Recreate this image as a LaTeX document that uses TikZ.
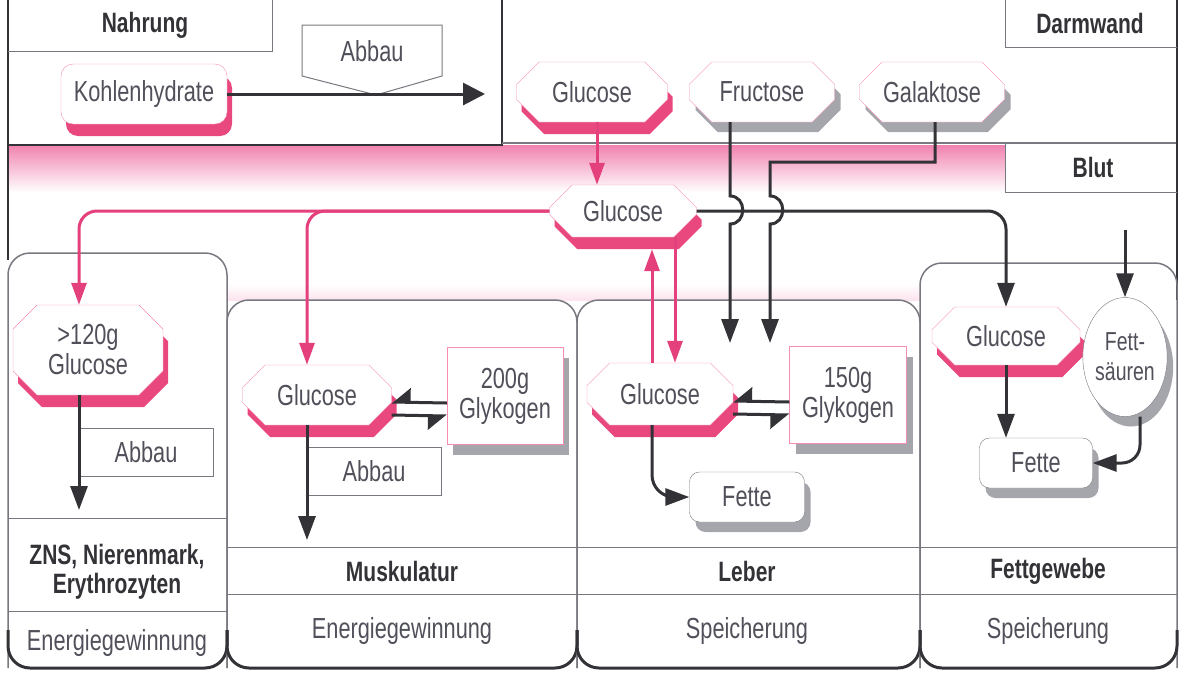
\documentclass[tikz,border=0pt]{standalone}
\usepackage{fontspec}
\setmainfont{Liberation Sans}[FakeStretch=0.75]
\usetikzlibrary{positioning, arrows.meta, shapes.misc, shapes.geometric, shadows}

\definecolor{pinkline}{RGB}{228,64,124}
\definecolor{pinkshade}{RGB}{232,72,126}
\definecolor{pinkedge}{RGB}{244,140,180}
\definecolor{pinkband}{RGB}{240,130,175}
\definecolor{greyshade}{RGB}{165,165,172}
\definecolor{frame}{RGB}{120,120,128}
\definecolor{ink}{RGB}{80,80,90}
\definecolor{darkink}{RGB}{50,50,55}

\begin{document}
\begin{tikzpicture}[x=1pt, y=-1pt,
  txt/.style={font=\fontsize{29}{30}\selectfont, text=ink, align=center},
  ttl/.style={font=\fontsize{28}{29}\selectfont\bfseries, text=darkink, align=center},
  pshadow/.style={drop shadow={shadow xshift=5pt, shadow yshift=-12pt, fill=pinkshade, opacity=1}},
  gshadow/.style={drop shadow={shadow xshift=6pt, shadow yshift=-10pt, fill=greyshade, opacity=1}},
  glu/.style={txt, chamfered rectangle, chamfered rectangle sep=12pt, draw=pinkedge, fill=white, inner sep=0pt, minimum height=60, minimum width=#1},
  store/.style={txt, rectangle, draw=pinkedge, fill=white, inner sep=0pt, minimum width=116, minimum height=97, gshadow},
  fat/.style={txt, rectangle, rounded corners=10, draw=frame, fill=white, inner sep=0pt, minimum width=115, minimum height=50, gshadow},
  abbau/.style={txt, rectangle, draw=frame, inner sep=0pt, minimum width=135, minimum height=48},
  panel/.style={draw=frame, line width=1.5},
  pink/.style={draw=pinkline, line width=3, -{Triangle[length=22pt, width=15pt]}},
  flow/.style={draw=darkink, line width=3, -{Triangle[length=24pt, width=17pt]}},
  swing/.style={draw=darkink, line width=3, -{Triangle[harpoon, swap, length=17pt, width=28pt]}},
]
\useasboundingbox (0,0) rectangle (1181,675);

% blood band
\shade[top color=pinkband, middle color=pinkband!55, bottom color=white] (8,145) rectangle (1005,192);
\shade[top color=white, bottom color=pinkband!22] (227,284) rectangle (920,300);

% frames
\draw[draw=darkink, line width=1.5] (8,0) -- (8,260);
\draw[draw=darkink, line width=2.5] (502,0) -- (502,145) -- (8,145);
\draw[panel, line width=1] (272,0) -- (272,51) -- (8,51);
\draw[panel] (502,143) -- (1177,143);
\draw[draw=darkink, line width=1.5] (1177,0) -- (1177,300);
\draw[panel, line width=1] (1005,0) -- (1005,47) -- (1177,47);
\draw[panel, line width=1] (1005,143) -- (1005,192) -- (1177,192);

% panels
\foreach \xa/\ya/\xb in {8/253/227, 227/300/577, 577/300/920, 920/263/1177} {
  \draw[panel, rounded corners=22] (\xa,668) -- (\xa,\ya) -- (\xb,\ya) -- (\xb,668);
  \draw[draw=darkink, line width=3, rounded corners=22] (\xa,630) -- (\xa,668) -- (\xb,668) -- (\xb,630);
}
\draw[panel, line width=1] (8,518) -- (227,518) (8,611) -- (227,611);
\draw[panel, line width=1] (227,547) -- (1177,547) (227,594) -- (1177,594);

% labels
\node[ttl] (nahr) at (145,25) {Nahrung};
\node[ttl] (darm) at (1090,23) {Darmwand};
\node[ttl] (blut) at (1093,167) {Blut};
\foreach \x/\y/\t [count=\i] in {117/572/{ZNS, Nierenmark,\\Erythrozyten}, 402/571/Muskulatur, 747/571/Leber, 1048/571/Fettgewebe}
  \node[ttl] (org\i) at (\x,\y) {\t};
\foreach \x/\y/\t [count=\i] in {117/643/Energiegewinnung, 402/631/Energiegewinnung, 747/631/Speicherung, 1048/631/Speicherung}
  \node[txt] (use\i) at (\x,\y) {\t};

% digestion
\node[txt, rounded corners=12, draw=pinkedge, fill=white, inner sep=0pt, minimum width=166, minimum height=60, pshadow] (kohl) at (144,94) {Kohlenhydrate};
\draw[panel, line width=1] (302,25) -- (442,25) -- (442,76) -- (376,95) -- (302,76) -- cycle;
\node[txt] (abbT) at (372,51) {Abbau};
\coordinate (kEnd) at (485,94);
\draw[flow, -{Triangle[length=22pt, width=22pt]}] (kohl.east) -- (kEnd);

\node[glu=151, pshadow] (gluT) at (592,92) {Glucose};
\node[glu=145, gshadow] (fru) at (762,92) {Fructose};
\node[glu=145, gshadow] (gal) at (932,92) {Galaktose};

% blood and organs
\node[glu=147, minimum height=52, pshadow] (gluC) at (623,211) {Glucose};
\node[glu=150, minimum height=90, pshadow] (glu120) at (88,350) {>120g\\Glucose};
\node[abbau] (abbZ) at (146,452) {Abbau};
\node[glu=149, pshadow] (gluM) at (317,395) {Glucose};
\node[store] (gly200) at (505,396) {200g\\Glykogen};
\node[abbau] (abbM) at (374,471) {Abbau};
\node[glu=146, minimum height=62, pshadow] (gluL) at (660,394) {Glucose};
\node[store, minimum width=117] (gly150) at (848,395) {150g\\Glykogen};
\node[fat] (fetL) at (747,497) {Fette};
\node[glu=148, minimum height=58, pshadow] (gluF) at (1006,336) {Glucose};
\node[txt, ellipse, draw=frame, fill=white, inner sep=0pt, minimum width=74, minimum height=119, gshadow, font=\fontsize{26}{30}\selectfont] (fsr) at (1125,357) {Fett-\\säuren};
\node[fat, minimum width=113] (fetF) at (1036,463) {Fette};

\coordinate (fruEnd) at (730,343);
\coordinate (galEnd) at (770,343);
\coordinate (znsEnd) at (79,510);
\coordinate (musEnd) at (307,540);
\coordinate (fsTop) at (1125,230);

\draw[pink] ([xshift=5pt]gluT.south) -- ([xshift=-26pt]gluC.north);
\draw[flow] ([xshift=-32pt]fru.south) -- (730,196) .. controls (747,196) and (747,224) .. (730,224) -- (fruEnd);
\draw[flow] ([xshift=3pt]gal.south) -- (935,162) -- (770,162) -- (770,196) .. controls (787,196) and (787,224) .. (770,224) -- (galEnd);
\draw[flow, rounded corners=18] (gluC.east) -| (gluF.north);
\draw[pink, rounded corners=18] (gluC.west) -| ([xshift=-9pt]glu120.north);
\draw[pink, rounded corners=18] (gluC.west) -| ([xshift=-10pt]gluM.north);
\draw[pink] ([xshift=-8pt]gluL.north) -- ([xshift=29pt, yshift=-12pt]gluC.south);
\draw[pink] ([xshift=52pt]gluC.south) -- ([xshift=15pt]gluL.north);

\draw[flow] ([xshift=-9pt]glu120.south) -- (znsEnd);
\draw[flow] ([xshift=-10pt]gluM.south) -- (musEnd);
\draw[swing] ([yshift=-7pt]gly200.west) -- ([yshift=-7pt]gluM.east);
\draw[swing] ([yshift=-20pt]gluM.east) -- ([yshift=-20pt]gly200.west);
\draw[swing] ([yshift=-7pt]gly150.west) -- ([yshift=-7pt]gluL.east);
\draw[swing] ([yshift=-20pt]gluL.east) -- ([yshift=-20pt]gly150.west);
\draw[flow, rounded corners=22] ([xshift=-8pt]gluL.south) |- (fetL.west);

\draw[flow] (gluF.south) -- (gluF.south |- fetF.north);
\draw[flow] (fsTop) -- (fsr.north);
\draw[flow, rounded corners=18] ([xshift=15pt]fsr.south) |- (fetF.east);
\end{tikzpicture}
\end{document}
